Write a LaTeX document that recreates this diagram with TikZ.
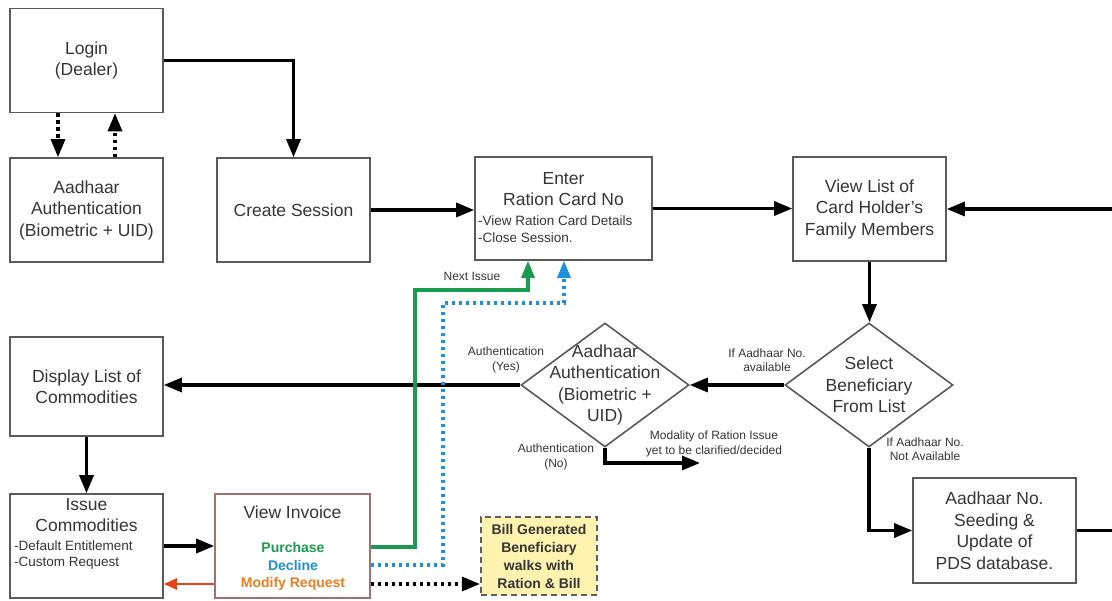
\documentclass[tikz,border=0pt]{standalone}
\usepackage{fontspec}
\setmainfont{Liberation Sans}
\usetikzlibrary{arrows.meta}
\usetikzlibrary{shapes.geometric}

\definecolor{boxgray}{HTML}{5A5A5A}
\definecolor{txtgray}{HTML}{353535}
\definecolor{invbrown}{HTML}{A07272}
\definecolor{grn}{HTML}{1A9B50}
\definecolor{blu}{HTML}{1E8FDD}
\definecolor{orng}{HTML}{F07C1E}
\definecolor{redarr}{HTML}{E8421C}
\definecolor{billfill}{HTML}{FFF3B0}
\definecolor{billdraw}{HTML}{5E5E5E}

\begin{document}
\begin{tikzpicture}[x=1pt,y=-1pt,
	box/.style={draw=boxgray, line width=1.6pt, minimum width=153pt, minimum height=104pt, inner sep=0pt},
	dia/.style={diamond, draw=boxgray, line width=1.6pt, minimum width=168pt, minimum height=124pt, inner sep=0pt},
	maintxt/.style={align=center, text=txtgray, font=\fontsize{17.5}{21.5}\selectfont, inner sep=0pt},
	smalltxt/.style={align=left, text=txtgray, font=\fontsize{13.5}{16.5}\selectfont, inner sep=0pt},
	tinytxt/.style={align=center, text=txtgray, font=\fontsize{12}{14.5}\selectfont, inner sep=0pt},
	boldtxt/.style={align=center, font=\bfseries\fontsize{14}{18}\selectfont, inner sep=0pt},
	flow/.style={line width=3.2pt, -{Triangle[length=18pt,width=14pt]}},
	dotflow/.style={line width=3.2pt, dash pattern=on 3.5pt off 3.5pt, -{Triangle[length=18pt,width=14pt]}},
	grnflow/.style={draw=grn, line width=3.2pt, -{Triangle[length=17pt,width=13pt]}},
	bluflow/.style={draw=blu, line width=3.2pt, dash pattern=on 3.5pt off 3.5pt, -{Triangle[length=17pt,width=13pt]}},
	redflow/.style={draw=redarr, line width=2.2pt, -{Triangle[length=13pt,width=11pt]}},
]
	\useasboundingbox (0,0) rectangle (1112,601);

	\node[box, maintxt] (login) at (86.5,60.5) {Login\\(Dealer)};
	\node[box, maintxt] (aadauth) at (86.5,210) {Aadhaar\\Authentication\\(Biometric + UID)};
	\node[box, maintxt] (create) at (293.5,210) {Create Session};
	\node[box, minimum width=177pt, minimum height=103pt] (enter) at (563.5,208.5) {};
	\node[maintxt] (entertitle) at (563.5,189) {Enter\\Ration Card No};
	\node[smalltxt, anchor=west] (enterlist) at (478,229) {-View Ration Card Details\\-Close Session.};
	\node[box, maintxt] (viewlist) at (869.5,209) {View List of\\Card Holder's\\Family Members};

	\node[dia] (selben) at (869,385) {};
	\node[maintxt] (selbentxt) at (869,385) {Select\\Beneficiary\\From List};
	\node[dia] (aaddia) at (605,385) {};
	\node[maintxt] (aaddiatxt) at (605,385) {Aadhaar\\Authentication\\(Biometric +\\UID)};
	\node[box, maintxt, minimum height=99pt] (display) at (86.5,386.5) {Display List of\\Commodities};

	\node[box] (issue) at (86.5,546) {};
	\node[maintxt] (issuetitle) at (86.5,515) {Issue\\Commodities};
	\node[smalltxt, anchor=west] (issuelist) at (14,555) {-Default Entitlement\\-Custom Request};
	\node[box, draw=invbrown, minimum width=155pt] (invoice) at (292.5,546) {};
	\node[maintxt] (invtitle) at (292.5,512) {View Invoice};
	\node[boldtxt, text=grn] (purch) at (293,547) {Purchase};
	\node[boldtxt, text=blu] (decl) at (293,565) {Decline};
	\node[boldtxt, text=orng] (modif) at (293,584) {Modify Request};
	\node[boldtxt, text=txtgray, draw=billdraw, fill=billfill, dash pattern=on 6pt off 4pt, line width=2.2pt, minimum width=116pt, minimum height=78pt] (bill) at (539,556) {Bill Generated\\Beneficiary\\walks with\\Ration \& Bill};
	\node[box, maintxt, minimum width=163pt, minimum height=105pt] (seed) at (994.5,530.5) {Aadhaar No.\\Seeding \&\\Update of\\PDS database.};

	\coordinate (rightin) at (1112,209);
	\coordinate (rightout) at (1112,530.5);
	\coordinate (nextturn) at (415,290);
	\coordinate (declturn) at (443,303);
	\coordinate (noend) at (700,463);

	\node[tinytxt] (nextlbl) at (472,276) {Next Issue};
	\node[tinytxt] (yeslbl) at (506,360) {Authentication\\(Yes)};
	\node[tinytxt] (nolbl) at (556,457) {Authentication\\(No)};
	\node[tinytxt] (modlbl) at (714,444) {Modality of Ration Issue\\yet to be clarified/decided};
	\node[tinytxt] (availlbl) at (767,360) {If Aadhaar No.\\available};
	\node[tinytxt] (notavaillbl) at (925,449) {If Aadhaar No.\\Not Available};

	\draw[dotflow] ([xshift=-28.5pt]login.south) -- ([xshift=-28.5pt]aadauth.north);
	\draw[dotflow] ([xshift=28.5pt]aadauth.north) -- ([xshift=28.5pt]login.south);
	\draw[flow] (login.east) -| (create.north);
	\draw[flow] (create.east) -- (create.east -| enter.west);
	\draw[flow] (enter.east) -- (enter.east -| viewlist.west);
	\draw[flow] (rightin) -- (viewlist.east);
	\draw[flow] (viewlist.south) -- (viewlist.south |- selben.north);
	\draw[flow] (selben.west) -- (aaddia.east);
	\draw[flow] (aaddia.west) -- (aaddia.west -| display.east);
	\draw[flow] (display.south) -- (issue.north);
	\draw[flow] (issue.east) -- (invoice.west);
	\draw[flow] (aaddia.south) |- (noend);
	\draw[flow] (selben.south) |- (seed.west);
	\draw[line width=3.2pt] (seed.east) -- (rightout);
	\draw[redflow] (invoice.west |- modif) -- (issue.east |- modif);
	\draw[grnflow] (invoice.east |- purch) -| (nextturn) -| ([xshift=-35.5pt]enter.south);
	\draw[bluflow] (invoice.east |- decl) -| (declturn) -| ([xshift=0.5pt]enter.south);
	\draw[dotflow] (invoice.east |- modif) -- (bill.west |- modif);
\end{tikzpicture}
\end{document}
